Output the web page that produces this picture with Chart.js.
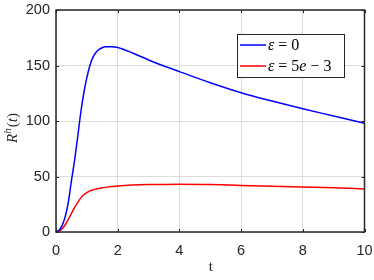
<!DOCTYPE html>
<html>
<head>
<meta charset="utf-8">
<script src="https://cdn.jsdelivr.net/npm/chart.js@4"></script>
<style>
  html, body { margin: 0; padding: 0; background: #fff; }
  #wrap { width: 374px; height: 280px; }
</style>
</head>
<body>
<div id="wrap"><canvas id="plot" width="374" height="280"></canvas></div>
<script>
// data
const tValues = [0, 0.1, 0.2, 0.3, 0.4, 0.5, 0.6, 0.7, 0.8, 0.9, 1.0, 1.1, 1.2, 1.3, 1.4, 1.5, 1.6, 1.8, 2, 2.5, 3, 3.5, 4, 5, 6, 7, 8, 9, 10];
const blueValues = [0, 1.5, 6, 14, 27, 46, 64, 85, 107, 125, 139, 150, 157.5, 162, 164.5, 166, 166.8, 167, 166.3, 161, 155, 149.5, 144.5, 134.5, 125.5, 118, 111, 104.5, 98];
const redValues = [0, 0.8, 3, 6.5, 11.5, 16.8, 22, 26.5, 30.5, 33.5, 35.5, 37, 38, 38.8, 39.3, 39.8, 40.2, 40.9, 41.5, 42.3, 42.7, 42.9, 43, 42.7, 42, 41.3, 40.6, 39.8, 38.8];
const xTicks = [0, 2, 4, 6, 8, 10];
const yTicks = [0, 50, 100, 150, 200];

const axisColor = "#262626";
const serif = "'Liberation Serif', 'DejaVu Serif', serif";

// pair t with values for a linear x axis
const toPoints = (vals) => tValues.map((t, i) => ({ x: t, y: vals[i] }));

// frame, inward ticks, axis titles and legend box (MATLAB look)
const matlabDecor = {
  id: "matlabDecor",
  afterDraw(chart) {
    const c = chart.ctx;
    const a = chart.chartArea;
    const xs = chart.scales.x;
    const ys = chart.scales.y;
    c.save();

    // box
    c.strokeStyle = axisColor;
    c.lineWidth = 1.5;
    c.strokeRect(a.left, a.top, a.right - a.left, a.bottom - a.top);

    // inward ticks on all four sides
    c.lineWidth = 1;
    const tl = 3;
    c.beginPath();
    for (const v of xTicks) {
      const px = Math.round(xs.getPixelForValue(v)) + 0.5;
      c.moveTo(px, a.bottom); c.lineTo(px, a.bottom - tl);
      c.moveTo(px, a.top); c.lineTo(px, a.top + tl);
    }
    for (const v of yTicks) {
      const py = Math.round(ys.getPixelForValue(v)) + 0.5;
      c.moveTo(a.left, py); c.lineTo(a.left + tl, py);
      c.moveTo(a.right, py); c.lineTo(a.right - tl, py);
    }
    c.stroke();

    // x title
    c.fillStyle = axisColor;
    c.font = "15px " + serif;
    c.textAlign = "center";
    c.textBaseline = "alphabetic";
    c.fillText("t", (a.left + a.right) / 2 + 0.5, 271);

    // y title R^h(t), rotated
    c.translate(17, 128);
    c.rotate(-Math.PI / 2);
    c.textAlign = "left";
    const parts = [
      { s: "R", f: "italic 15px " + serif, dy: 0 },
      { s: "h", f: "italic 11px " + serif, dy: -6 },
      { s: "(", f: "15px " + serif, dy: 0 },
      { s: "t", f: "italic 15px " + serif, dy: 0 },
      { s: ")", f: "15px " + serif, dy: 0 },
    ];
    let w = 0;
    for (const p of parts) { c.font = p.f; w += c.measureText(p.s).width + (p.s === "h" ? 1 : 0); }
    let x0 = -w / 2;
    for (const p of parts) {
      c.font = p.f;
      c.fillText(p.s, x0, p.dy);
      x0 += c.measureText(p.s).width + (p.s === "h" ? 1 : 0);
    }
    c.restore();

    // legend
    c.save();
    const lx = 237, ly = 34, lw = 107, lh = 43;
    c.fillStyle = "#fff";
    c.fillRect(lx, ly, lw, lh);
    c.strokeStyle = axisColor;
    c.lineWidth = 1;
    c.strokeRect(lx + 0.5, ly + 0.5, lw, lh);
    const entries = [
      { color: "#0000ff", y: 45, parts: [["ε", true], [" = 0", false]] },
      { color: "#ff0000", y: 66, parts: [["ε", true], [" = 5", false], ["e", true], [" − 3", false]] },
    ];
    c.textBaseline = "middle";
    c.textAlign = "left";
    for (const e of entries) {
      c.strokeStyle = e.color;
      c.lineWidth = 1.5;
      c.beginPath();
      c.moveTo(240, e.y); c.lineTo(266, e.y);
      c.stroke();
      c.fillStyle = "#000";
      let tx = 268;
      for (const [s, it] of e.parts) {
        c.font = (it ? "italic " : "") + "16px " + serif;
        c.fillText(s, tx, e.y + 1);
        tx += c.measureText(s).width;
      }
    }
    c.restore();
  },
};

const ctx = document.querySelector("#plot").getContext("2d");
new Chart(ctx, {
  type: "line",
  data: {
    datasets: [
      {
        label: "ε = 0",
        data: toPoints(blueValues),
        borderColor: "#0000ff",
        borderWidth: 1.5,
        pointRadius: 0,
        cubicInterpolationMode: "monotone",
      },
      {
        label: "ε = 5e − 3",
        data: toPoints(redValues),
        borderColor: "#ff0000",
        borderWidth: 1.5,
        pointRadius: 0,
        cubicInterpolationMode: "monotone",
      },
    ],
  },
  options: {
    responsive: false,
    animation: false,
    layout: { padding: { left: 0, right: 9.5, top: 10, bottom: 0 } },
    plugins: { legend: { display: false }, tooltip: { enabled: false } },
    scales: {
      x: {
        type: "linear",
        min: 0,
        max: 10,
        afterBuildTicks: (s) => { s.ticks = xTicks.map((v) => ({ value: v })); },
        afterFit: (s) => { s.height = 48; s.paddingLeft = 0; s.paddingRight = 0; },
        grid: { color: "#dcdcdc", lineWidth: 1, drawTicks: false },
        border: { display: false },
        ticks: {
          color: axisColor,
          padding: 10,
          font: { family: "'Liberation Sans', Arial, sans-serif", size: 14.5 },
          maxRotation: 0,
        },
      },
      y: {
        min: 0,
        max: 200,
        afterBuildTicks: (s) => { s.ticks = yTicks.map((v) => ({ value: v })); },
        afterFit: (s) => { s.width = 56; s.paddingTop = 0; s.paddingBottom = 0; },
        grid: { color: "#dcdcdc", lineWidth: 1, drawTicks: false },
        border: { display: false },
        ticks: {
          color: axisColor,
          padding: 6,
          font: { family: "'Liberation Sans', Arial, sans-serif", size: 14.5 },
        },
      },
    },
  },
  plugins: [matlabDecor],
});
</script>
</body>
</html>
